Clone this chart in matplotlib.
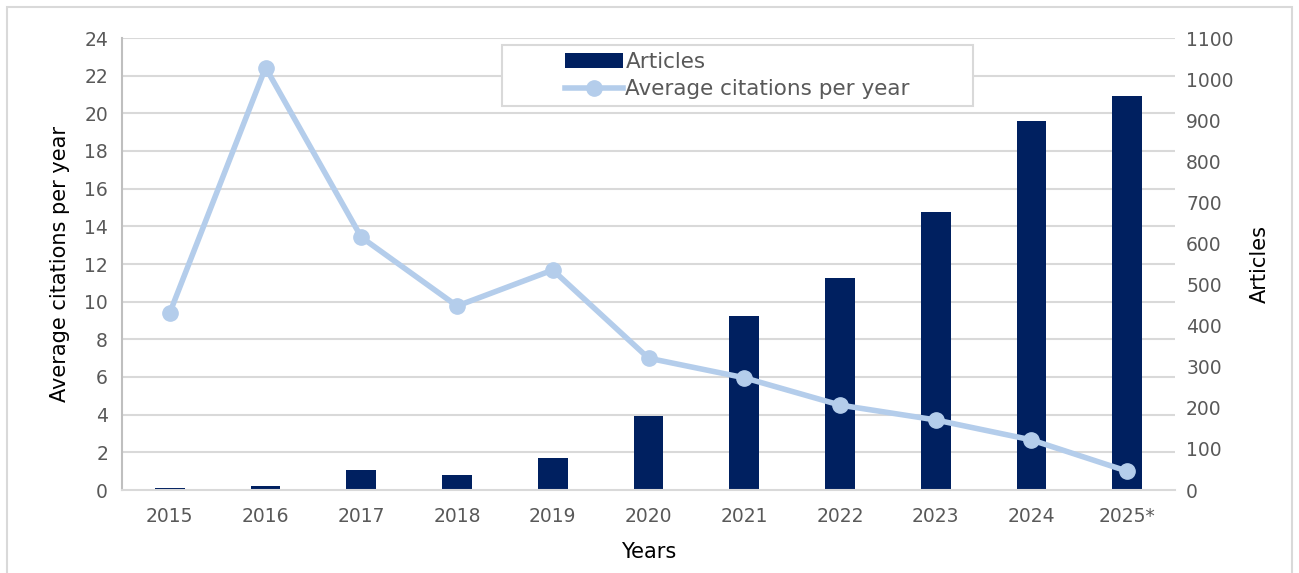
import matplotlib
matplotlib.use('Agg')
import matplotlib.pyplot as plt
from matplotlib.patches import Rectangle

years = ["2015", "2016", "2017", "2018", "2019", "2020", "2021", "2022", "2023", "2024", "2025*"]
articles = [5, 10, 49, 37, 78, 181, 423, 515, 677, 898, 959]
avg_citations = [9.42, 22.43, 13.42, 9.77, 11.68, 7.0, 5.96, 4.51, 3.72, 2.66, 1.0]

BAR_COLOR = "#002060"
LINE_COLOR = "#B4CDEB"
GRID_COLOR = "#D9D9D9"
TEXT_COLOR = "#595959"

plt.rcParams['font.family'] = ['DejaVu Sans']

W, H = 1299, 573
fig = plt.figure(figsize=(W / 100, H / 100), dpi=100)
ax = fig.add_axes([122 / W, 1 - 490 / H, (1175 - 122) / W, (490 - 38) / H])
ax2 = ax.twinx()

x = list(range(len(years)))

# barras en eje derecho, linea en eje izquierdo
bars = ax2.bar(x, articles, width=0.31, color=BAR_COLOR, label="Articles", zorder=2)
ax2.set_ylim(0, 1100)
ax2.set_yticks(range(0, 1101, 100))

ax.set_zorder(ax2.get_zorder() + 1)
ax.patch.set_visible(False)
line, = ax.plot(x, avg_citations, color=LINE_COLOR, linewidth=4, marker="o",
                markersize=11, label="Average citations per year", zorder=3)
ax.set_ylim(0, 24)
ax.set_yticks(range(0, 25, 2))
ax.set_xlim(-0.5, len(years) - 0.5)
ax.set_xticks(x)
ax.set_xticklabels(years)

# grid horizontal detras de las barras
for g in range(2, 25, 2):
    ax2.axhline(g * 1100 / 24, color=GRID_COLOR, linewidth=1.5, zorder=0)

for a in (ax, ax2):
    for s in a.spines.values():
        s.set_visible(False)
    a.tick_params(length=0, labelsize=13.5, colors=TEXT_COLOR)
ax2.spines['left'].set_visible(True)
ax2.spines['left'].set_color("#BFBFBF")
ax2.spines['left'].set_linewidth(1.5)
ax2.spines['bottom'].set_visible(True)
ax2.spines['bottom'].set_color(GRID_COLOR)
ax2.spines['bottom'].set_linewidth(1.5)
ax.tick_params(axis='x', pad=12)
ax.tick_params(axis='y', pad=10)
ax2.tick_params(axis='y', pad=8)

ax.set_ylabel("Average citations per year", fontsize=15, color="black", labelpad=10)
ax2.set_ylabel("Articles", fontsize=15, color="black", labelpad=12)
ax.set_xlabel("Years", fontsize=15, color="black", labelpad=12)

leg = ax.legend([bars, line], ["Articles", "Average citations per year"],
                loc="center", bbox_to_anchor=(0.5845, 0.917), fontsize=15.5,
                frameon=False, labelspacing=0.35, handlelength=2.7,
                handletextpad=0.1, borderaxespad=0, borderpad=0)
for t in leg.get_texts():
    t.set_color(TEXT_COLOR)

# marco de la leyenda (fondo blanco), mas ancho que su contenido como en el original
ax.add_patch(Rectangle((502 / W, 1 - 106 / H), (973 - 502) / W, 61 / H,
                       transform=fig.transFigure, facecolor="white",
                       edgecolor=GRID_COLOR, linewidth=1.5, zorder=2.5,
                       clip_on=False))

fig.patches.append(Rectangle((7 / W, -0.01), 1285 / W, 1 - 7 / H + 0.01,
                             transform=fig.transFigure, fill=False,
                             edgecolor=GRID_COLOR, linewidth=1.5))

fig.savefig("out.png", dpi=100)
